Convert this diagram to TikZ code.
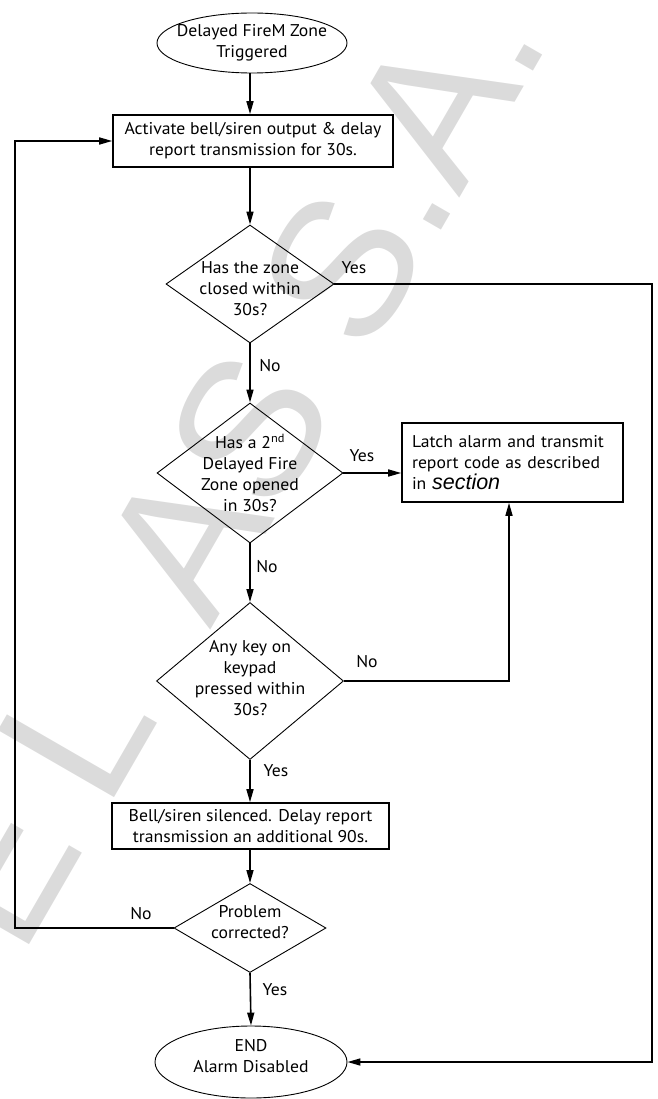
\documentclass[tikz,border=0pt]{standalone}
\usepackage{fontspec}
\setmainfont[FakeStretch=1.04]{PT Sans}
\newfontfamily\arialfam{Liberation Sans}
\usetikzlibrary{shapes.geometric,arrows.meta}
\newcommand\ctext[2][-4pt]{\smash{\makebox[0pt]{\raisebox{#1}{\begin{tabular}{@{}c@{}}#2\end{tabular}}}}}
\begin{document}
\begin{tikzpicture}[x=1pt,y=-1pt,
  every node/.style={font=\fontsize{17}{21}\selectfont},
  conn/.style={line width=1.6pt, -{Triangle[length=13pt,width=7pt]}},
  procbox/.style={draw, line width=1.6pt, rectangle, inner sep=0pt, align=center},
  decision/.style={draw, line width=0.9pt, diamond, inner sep=0pt},
  term/.style={draw, line width=0.9pt, ellipse, inner sep=0pt},
  lbl/.style={inner sep=0pt},
  wmark/.style={text=black!14, rotate=60, inner sep=0pt, anchor=base east, font=\fontsize{195}{195}\selectfont\arialfam}
]
\useasboundingbox (0,0) rectangle (657,1099);
\node[wmark] (wm) at (552,39) {E\kern40pt L\kern100pt AS S.A.};

\coordinate (cx) at (250,0);
\coordinate (rx) at (652,0);
\coordinate (kx) at (509,0);
\coordinate (lx) at (15,0);

\node[term, minimum width=190pt, minimum height=60pt] (start) at (252,43) {\ctext{Delayed FireM Zone\\Triggered}};
\node[procbox, minimum width=280pt, minimum height=52pt] (act) at (253,141) {Activate bell/siren output \& delay\\report transmission for 30s.};
\node[decision, minimum width=168pt, minimum height=118pt] (d1) at (250,284) {\ctext[-11pt]{Has the zone\\closed within\\30s?}};
\node[decision, minimum width=186pt, minimum height=140pt] (d2) at (250,473) {\ctext[-7pt]{Has a 2\textsuperscript{nd}\\Delayed Fire\\Zone opened\\in 30s?}};
\node[procbox, minimum width=221pt, minimum height=79pt, text width=201pt, align=left] (latch) at (512.5,462.5) {Latch alarm and transmit\\report code as described\\in {\arialfam\itshape\fontsize{21.5}{21}\selectfont section}};
\node[decision, minimum width=187pt, minimum height=157pt] (d3) at (250,681) {\ctext[-3.5pt]{Any key on\\keypad\\pressed within\\30s?}};
\node[procbox, minimum width=277pt, minimum height=46pt] (bell) at (250.5,826) {Bell/siren silenced. Delay report\\transmission an additional 90s.};
\node[decision, minimum width=152pt, minimum height=89pt] (d4) at (250,928) {\ctext[-0.5pt]{Problem\\corrected?}};
\node[term, minimum width=192pt, minimum height=72pt] (end) at (251,1062) {\ctext[-0.5pt]{END\\Alarm Disabled}};

\draw[conn] (cx |- start.south) -- (cx |- act.north);
\draw[conn] (d1.north |- act.south) -- (d1.north);
\draw[conn] (d1.south) -- (d2.north);
\draw[conn] (d2.east) -- (d2.east -| latch.west);
\draw[conn] (d2.south) -- (d3.north);
\draw[conn] (d3.south) -- (d3.south |- bell.north);
\draw[conn] (d4.north |- bell.south) -- (d4.north);
\draw[conn] (d4.south) -- (end.north);
\draw[conn] (d1.east) -- (d1.east -| rx) -- (rx |- end.east) -- (end.east);
\draw[conn] (d3.east) -- (d3.east -| kx) -- (kx |- latch.south);
\draw[conn] (d4.west) -- (d4.west -| lx) -- (lx |- act.west) -- (act.west);

\node[lbl] (y1) at (354,268) {Yes};
\node[lbl] (n1) at (270,366) {No};
\node[lbl] (y2) at (362,456) {Yes};
\node[lbl] (n2) at (267,567) {No};
\node[lbl] (n3) at (367,662) {No};
\node[lbl] (y3) at (276,771) {Yes};
\node[lbl] (n4) at (141,914) {No};
\node[lbl] (y4) at (275,990) {Yes};
\end{tikzpicture}
\end{document}
